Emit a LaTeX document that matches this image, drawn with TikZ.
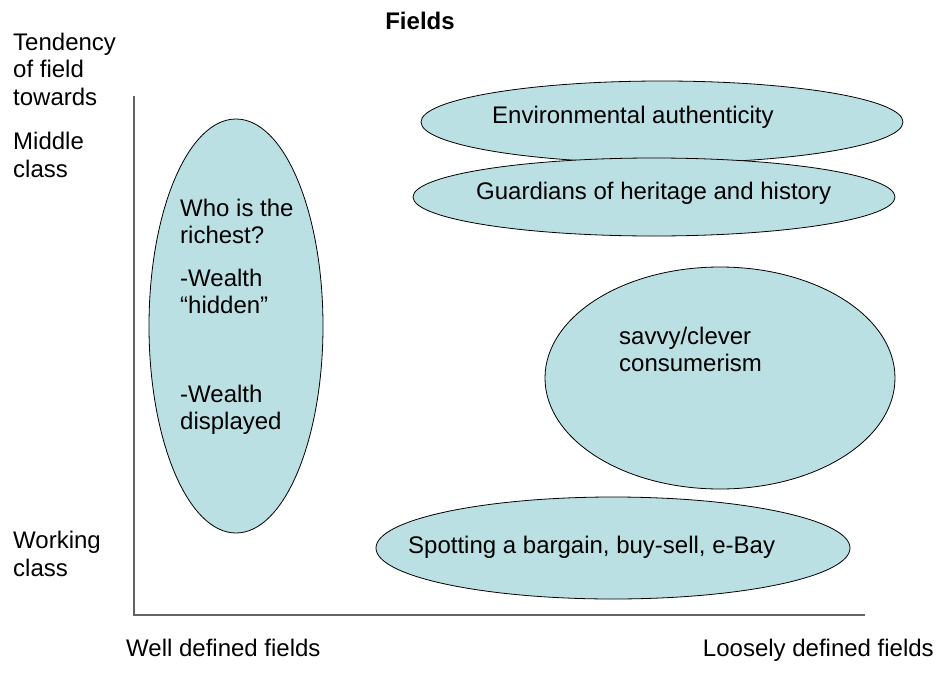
\documentclass[tikz,border=0pt]{standalone}
\usepackage{fontspec}
\setmainfont{Liberation Sans}
\usetikzlibrary{shapes.geometric}
\definecolor{fieldfill}{RGB}{187,224,227}
\definecolor{axisgray}{RGB}{100,100,100}
\begin{document}
\begin{tikzpicture}[x=1pt,y=-1pt,
  field/.style={draw=black,line width=0.8pt,fill=fieldfill},
  lbl/.style={anchor=base west,inner sep=0pt,font=\fontsize{24}{27.5}\selectfont},
  axisline/.style={draw=axisgray,line width=1.4pt}]
\useasboundingbox[fill=white] (0,0) rectangle (938,675);
% axes
\coordinate (ytop) at (134,96);
\coordinate (orig) at (134,615);
\coordinate (xend) at (865,615);
\draw[axisline] (ytop) -- (orig) -- (xend);
% ellipses
\path[field] (236,326) ellipse [x radius=87, y radius=207];
\path[field] (662,122) ellipse [x radius=241, y radius=41];
\path[field] (654,197) ellipse [x radius=241, y radius=39];
\path[field] (720,378) ellipse [x radius=175, y radius=111];
\path[field] (613,548) ellipse [x radius=237, y radius=51];
% title
\node[anchor=base,inner sep=0pt,font=\fontsize{24}{27.5}\selectfont\bfseries] (title) at (420,29) {Fields};
% y-axis labels
\node[lbl] (t1) at (13,50) {Tendency};
\node[lbl] (t2) at (13,77.5) {of field};
\node[lbl] (t3) at (13,105) {towards};
\node[lbl] (m1) at (13,149) {Middle};
\node[lbl] (m2) at (13,177) {class};
\node[lbl] (w1) at (13,548) {Working};
\node[lbl] (w2) at (13,576) {class};
% x-axis labels
\node[lbl] (xl) at (126,656) {Well defined fields};
\node[anchor=base east,inner sep=0pt,font=\fontsize{24}{27.5}\selectfont] (xr) at (934,656) {Loosely defined fields};
% left ellipse text
\node[lbl] (r1) at (180,216) {Who is the};
\node[lbl] (r2) at (180,243.5) {richest?};
\node[lbl] (r3) at (180,286) {-Wealth};
\node[lbl] (r4) at (180,313.5) {“hidden”};
\node[lbl] (r5) at (180,402) {-Wealth};
\node[lbl] (r6) at (180,429.5) {displayed};
% other texts
\node[lbl] (env) at (492,123) {Environmental authenticity};
\node[lbl] (gua) at (476,199) {Guardians of heritage and history};
\node[lbl] (sv1) at (619,344) {savvy/clever};
\node[lbl] (sv2) at (619,371.5) {consumerism};
\node[lbl] (spot) at (408,553) {Spotting a bargain, buy-sell, e-Bay};
\end{tikzpicture}
\end{document}
